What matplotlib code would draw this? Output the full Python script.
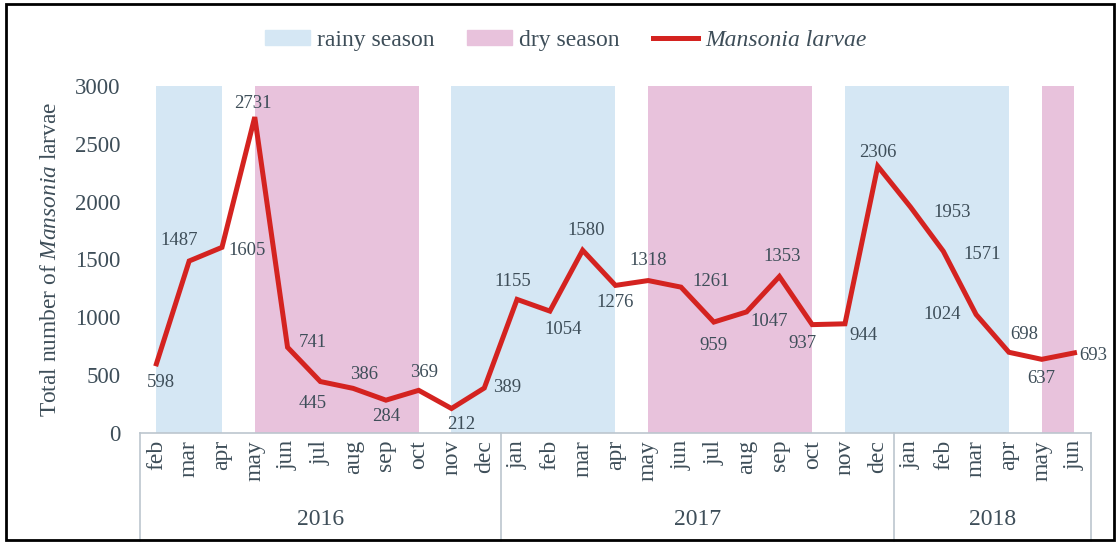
import matplotlib.pyplot as plt
from matplotlib.patches import Patch, Rectangle
from matplotlib.lines import Line2D
from matplotlib.transforms import blended_transform_factory

months = ['feb', 'mar', 'apr', 'may', 'jun', 'jul', 'aug', 'sep', 'oct', 'nov', 'dec',
          'jan', 'feb', 'mar', 'apr', 'may', 'jun', 'jul', 'aug', 'sep', 'oct', 'nov', 'dec',
          'jan', 'feb', 'mar', 'apr', 'may', 'jun']
larvae = [598, 1487, 1605, 2731, 741, 445, 386, 284, 369, 212, 389,
          1155, 1054, 1580, 1276, 1318, 1261, 959, 1047, 1353, 937, 944, 2306,
          1953, 1571, 1024, 698, 637, 693]
years = ['2016', '2017', '2018']
year_start = [0, 11, 23]   # index of first month in each year
rainy = [(0, 2), (9, 14), (21, 26)]   # first/last month index of each season
dry = [(3, 8), (15, 20), (27, 28)]

# label offsets (pixels) so the numbers sit like in the original
offsets = [(5, -19), (-10, 20), (25, -3), (-2, 14), (25, 5), (-8, -22), (11, 14),
           (0, -16), (5, 18), (10, -16), (23, 1), (-4, 18), (13, -18), (4, 20),
           (0, -17), (0, 20), (30, 6), (0, -23), (23, -10), (3, 20), (-10, -19),
           (18, -12), (0, 14), (42, -5), (39, -3), (-34, 0), (15, 18), (0, -19), (19, -3)]

plt.rcParams['font.family'] = 'Liberation Serif'
plt.rcParams['mathtext.fontset'] = 'custom'
plt.rcParams['mathtext.rm'] = 'Liberation Serif'
plt.rcParams['mathtext.it'] = 'Liberation Serif:italic'
txt = '#3E4E59'
blue = '#D5E7F4'
pink = '#E8C2DC'
red = '#D42320'
grid_c = '#BCC6CE'

fig = plt.figure(figsize=(11.2, 5.44), dpi=100)
ax = fig.add_axes([0.125, 0.204, 0.849, 0.638])

x = list(range(len(larvae)))
for a, b in rainy:
    ax.axvspan(a, b, color=blue, lw=0, zorder=0)
for a, b in dry:
    ax.axvspan(a, b, color=pink, lw=0, zorder=0)

ax.plot(x, larvae, color=red, lw=3.6, solid_joinstyle='miter', zorder=3)
for i, v in enumerate(larvae):
    ax.annotate(str(v), (i, v), xytext=offsets[i], textcoords='offset pixels',
                ha='center', va='center', fontsize=13.5, color=txt, zorder=4)

ax.set_xlim(-0.5, len(larvae) - 0.5)
ax.set_ylim(0, 3000)
ax.set_yticks(range(0, 3001, 500))
ax.tick_params(axis='y', length=0, pad=14, labelsize=16.5, labelcolor=txt)
ax.set_xticks(x)
ax.set_xticklabels(months, rotation=90, fontsize=17, color=txt)
ax.tick_params(axis='x', length=0, pad=5)
for s in ['top', 'right', 'left']:
    ax.spines[s].set_visible(False)
ax.spines['bottom'].set_color(grid_c)
ax.spines['bottom'].set_linewidth(1.2)

ax.set_ylabel('Total number of $\\mathit{Mansonia}$ larvae', fontsize=16.8, color=txt, labelpad=10)

# year grouping below the month labels
tr = blended_transform_factory(ax.transData, ax.transAxes)
bounds = year_start + [len(larvae)]
for b in bounds:
    ax.plot([b - 0.5, b - 0.5], [0, -0.31], transform=tr, color=grid_c, lw=1.2, clip_on=False)
for k, yr in enumerate(years):
    mid = (bounds[k] + bounds[k + 1] - 1) / 2
    ax.text(mid, -0.25, yr, transform=tr, ha='center', va='center', fontsize=17, color=txt)

handles = [Patch(color=blue, label='rainy season'),
           Patch(color=pink, label='dry season'),
           Line2D([], [], color=red, lw=3.6, label='Mansonia larvae')]
leg = fig.legend(handles=handles, loc='center', bbox_to_anchor=(0.505, 0.926), ncol=3,
                 frameon=False, fontsize=17, handlelength=1.9, handleheight=0.6,
                 handletextpad=0.3, columnspacing=1.4)
for t in leg.get_texts():
    t.set_color(txt)
leg.get_texts()[2].set_style('italic')

fig.add_artist(Rectangle((0.005, 0.008), 0.99, 0.984, transform=fig.transFigure,
                         fill=False, ec='black', lw=2))

fig.savefig('out.png', dpi=100)
